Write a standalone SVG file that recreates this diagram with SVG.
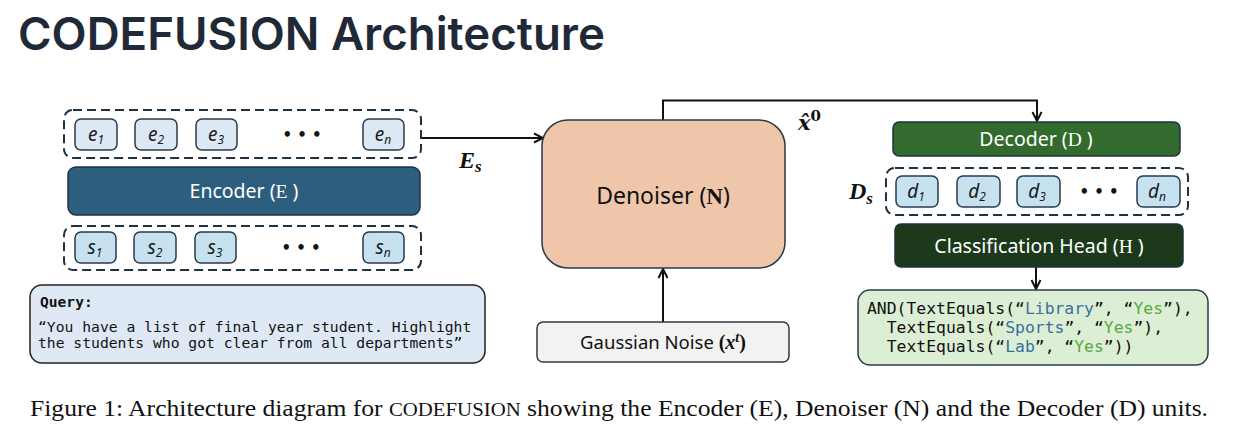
<svg xmlns="http://www.w3.org/2000/svg" width="1236" height="438" viewBox="0 0 1236 438">
<defs>
<marker id="arr" viewBox="0 0 12 12" refX="11" refY="6" markerWidth="12" markerHeight="12" markerUnits="userSpaceOnUse" orient="auto">
<path d="M2,1.5 L11,6 L2,10.5" fill="none" stroke="#111" stroke-width="2"/>
</marker>
</defs>
<style>
.sans{font-family:"Noto Sans","Open Sans",sans-serif;}
.serif{font-family:"Liberation Serif","Times New Roman",serif;}
.mono{font-family:"DejaVu Sans Mono","Liberation Mono",monospace;}
.dash{fill:none;stroke:#1f3242;stroke-width:2;stroke-dasharray:9 5;}
.tok{stroke:#2b3a48;stroke-width:1.5;}
.te{fill:#dde8f5;}
.ts{fill:#c6e2f1;}
.lbl{font-family:"Noto Sans","Open Sans",sans-serif;font-style:italic;font-size:19px;fill:#1a1a1a;text-anchor:middle;}
.sub{font-size:12px;}
.dots{font-family:"DejaVu Sans",sans-serif;font-size:15px;font-weight:bold;fill:#111;text-anchor:middle;}
.wt{fill:#fff;font-size:19.5px;text-anchor:middle;}
.conn{fill:none;stroke:#111;stroke-width:2;}
.math{font-family:"Liberation Serif","Times New Roman",serif;font-style:italic;fill:#111;}
</style>
<rect width="1236" height="438" fill="#fff"/>
<text x="18" y="50" font-family="Inter,'Liberation Sans',sans-serif" font-weight="600" font-size="45.6" fill="#1f2937">CODEFUSION Architecture</text>

<g id="connectors">
<path class="conn" d="M421,138 H543" marker-end="url(#arr)"/>
<path class="conn" d="M663,120 V100.5 H1037 V121" marker-end="url(#arr)"/>
<path class="conn" d="M663,322 V269" marker-end="url(#arr)"/>
<path class="conn" d="M1036,267 V289" marker-end="url(#arr)"/>
</g>

<g id="e-tokens">
<rect class="dash" x="64" y="110" width="357" height="48" rx="9"/>
<rect class="tok te" x="75" y="119" width="42" height="31" rx="6"/>
<rect class="tok te" x="135" y="119" width="42" height="31" rx="6"/>
<rect class="tok te" x="196" y="119" width="41" height="31" rx="6"/>
<rect class="tok te" x="363" y="119" width="41" height="31" rx="6"/>
<text class="lbl" x="96" y="141">e<tspan class="sub" dy="3">1</tspan></text>
<text class="lbl" x="156" y="141">e<tspan class="sub" dy="3">2</tspan></text>
<text class="lbl" x="216" y="141">e<tspan class="sub" dy="3">3</tspan></text>
<text class="dots" x="302" y="140">• • •</text>
<text class="lbl" x="383" y="141">e<tspan class="sub" dy="3">n</tspan></text>
</g>

<g id="encoder">
<rect x="68" y="167" width="352" height="48" rx="8" fill="#2e5e7e" stroke="#1f3242" stroke-width="1.5"/>
<text class="sans wt" x="244" y="198">Encoder (<tspan class="serif">E</tspan> )</text>
</g>

<g id="s-tokens">
<rect class="dash" x="64" y="226" width="357" height="44" rx="9"/>
<rect class="tok ts" x="75" y="232" width="41" height="31" rx="6"/>
<rect class="tok ts" x="134" y="232" width="42" height="31" rx="6"/>
<rect class="tok ts" x="195" y="232" width="41" height="31" rx="6"/>
<rect class="tok ts" x="363" y="232" width="41" height="31" rx="6"/>
<text class="lbl" x="95" y="254">s<tspan class="sub" dy="3">1</tspan></text>
<text class="lbl" x="155" y="254">s<tspan class="sub" dy="3">2</tspan></text>
<text class="lbl" x="215" y="254">s<tspan class="sub" dy="3">3</tspan></text>
<text class="dots" x="301" y="253">• • •</text>
<text class="lbl" x="383" y="254">s<tspan class="sub" dy="3">n</tspan></text>
</g>

<g id="query">
<rect x="30" y="285" width="455" height="78" rx="12" fill="#dfe9f5" stroke="#222" stroke-width="1.5"/>
<text class="mono" x="40" y="307" font-size="14.6" font-weight="bold" fill="#111">Query:</text>
<text class="mono" x="38" y="332" font-size="14.7" fill="#111">“You have a list of final year student. Highlight</text>
<text class="mono" x="38" y="348" font-size="14.7" fill="#111">the students who got clear from all departments”</text>
</g>

<g id="es-label">
<text class="math" x="459" y="168" font-size="24" font-weight="bold">E<tspan font-size="17" dy="4">s</tspan></text>
</g>

<g id="denoiser">
<rect x="542" y="120" width="243" height="148" rx="26" fill="#f0c6ab" stroke="#2b3a48" stroke-width="1.5"/>
<text class="sans" x="663" y="204" font-size="23" fill="#111" text-anchor="middle">Denoiser (<tspan class="serif" font-weight="bold">N</tspan>)</text>
</g>

<g id="x0-label">
<text x="798" y="130" font-family="'DejaVu Serif',serif" font-style="italic" font-size="21" font-weight="bold" fill="#111">x&#x302;<tspan font-style="normal" font-size="15" dy="-9">0</tspan></text>
</g>

<g id="gaussian">
<rect x="537" y="322" width="252" height="40" rx="6" fill="#f2f2f2" stroke="#2b3a48" stroke-width="1.5"/>
<text class="sans" x="663" y="349" font-size="18.5" fill="#111" text-anchor="middle">Gaussian Noise <tspan class="serif" font-weight="bold" font-size="20">(<tspan font-style="italic">x</tspan><tspan font-style="italic" font-size="14" dy="-7">t</tspan><tspan dy="7">)</tspan></tspan></text>
</g>

<g id="decoder">
<rect x="893" y="122" width="287" height="34" rx="6" fill="#336a2d" stroke="#1f3242" stroke-width="1.5"/>
<text class="sans wt" x="1036" y="146">Decoder (<tspan class="serif">D</tspan> )</text>
</g>

<g id="ds-label">
<text class="math" x="849" y="199" font-size="24" font-weight="bold">D<tspan font-size="17" dy="5">s</tspan></text>
</g>

<g id="d-tokens">
<rect class="dash" x="886" y="168" width="302" height="47" rx="9"/>
<rect class="tok ts" x="896" y="176" width="42" height="31" rx="6"/>
<rect class="tok ts" x="957" y="176" width="43" height="31" rx="6"/>
<rect class="tok ts" x="1017" y="176" width="43" height="31" rx="6"/>
<rect class="tok ts" x="1137" y="176" width="43" height="31" rx="6"/>
<text class="lbl" x="916" y="198">d<tspan class="sub" dy="3">1</tspan></text>
<text class="lbl" x="977" y="198">d<tspan class="sub" dy="3">2</tspan></text>
<text class="lbl" x="1037" y="198">d<tspan class="sub" dy="3">3</tspan></text>
<text class="dots" x="1099" y="197">• • •</text>
<text class="lbl" x="1157" y="198">d<tspan class="sub" dy="3">n</tspan></text>
</g>

<g id="head">
<rect x="895" y="224" width="288" height="43" rx="6" fill="#1d391c" stroke="#1f3242" stroke-width="1.5"/>
<text class="sans wt" x="1039" y="253">Classification Head (<tspan class="serif">H</tspan> )</text>
</g>

<g id="program">
<rect x="858" y="290" width="350" height="75" rx="12" fill="#dcefd5" stroke="#2b3a48" stroke-width="1.5"/>
<text class="mono" font-size="16.4" fill="#111" xml:space="preserve"><tspan x="867" y="314">AND(TextEquals(“<tspan fill="#3b6fa0">Library</tspan>”, “<tspan fill="#5aa845">Yes</tspan>”),</tspan><tspan x="867" y="333">  TextEquals(“<tspan fill="#3b6fa0">Sports</tspan>”, “<tspan fill="#5aa845">Yes</tspan>”),</tspan><tspan x="867" y="352">  TextEquals(“<tspan fill="#3b6fa0">Lab</tspan>”, “<tspan fill="#5aa845">Yes</tspan>”))</tspan></text>
</g>

<text class="serif" x="30" y="416" font-size="24" fill="#111" textLength="1178" lengthAdjust="spacingAndGlyphs">Figure 1: Architecture diagram for <tspan font-size="19.5">CODEFUSION</tspan> showing the Encoder (E), Denoiser (N) and the Decoder (D) units.</text>
</svg>
